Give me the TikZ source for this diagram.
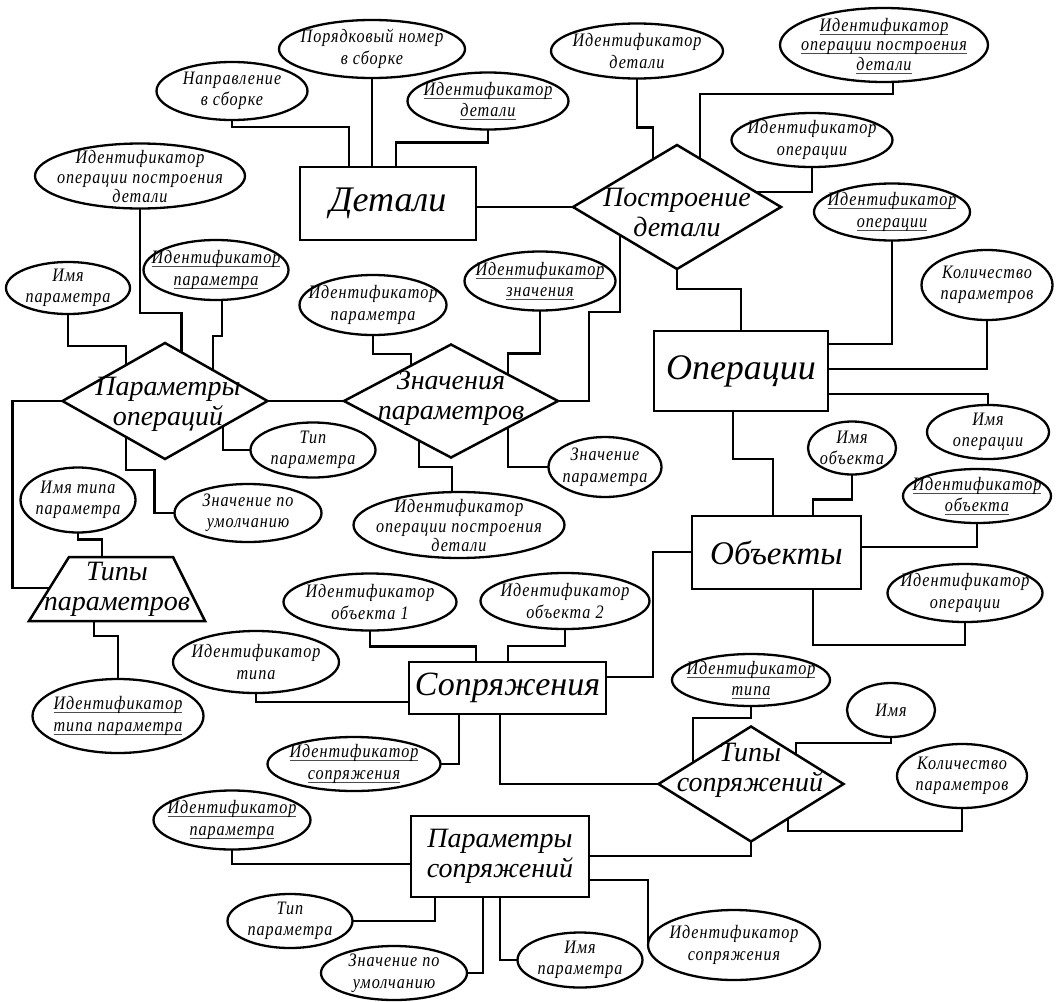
\documentclass[tikz,border=0pt]{standalone}
\usepackage{fontspec}
\setmainfont{Liberation Serif}
\newfontfamily\attrf{Liberation Serif}[FakeStretch=0.85, LetterSpace=5]
\usetikzlibrary{shapes.geometric,calc}
\newcommand{\myul}[1]{\setbox0\hbox{#1}\rlap{\textcolor{black!70}{\rule[-3.5pt]{\wd0}{0.9pt}}}\box0}
\tikzset{
 conn/.style={line width=2.3pt, line join=miter},
 attr/.style={ellipse, draw, line width=2.3pt, inner sep=0pt, outer sep=0pt},
 attrtext/.style={align=center, inner sep=0pt, font=\attrf\itshape\fontsize{19}{21.5}\selectfont},
 attrtextc/.style={align=center, inner sep=0pt, font=\attrf\itshape\fontsize{19}{19.5}\selectfont},
 entity/.style={rectangle, draw, line width=2.5pt, inner sep=0pt, outer sep=0pt, align=center},
 rel/.style={diamond, draw, line width=2.5pt, inner sep=0pt, outer sep=0pt},
 reltext/.style={align=center, inner sep=0pt, font=\itshape\fontsize{28}{30}\selectfont},
}
\newcommand{\attrnode}[6]{%
 \node[attr, minimum width=#4pt, minimum height=#5pt] (#1) at (#2,#3) {};
 \node[attrtext] (#1t) at (#1) {#6};}
\newcommand{\attrnodec}[6]{%
 \node[attr, minimum width=#4pt, minimum height=#5pt] (#1) at (#2,#3) {};
 \node[attrtextc] (#1t) at ($(#1)+(0,1)$) {#6};}
\begin{document}
\begin{tikzpicture}[x=1pt,y=-1pt]
\fill[white] (0,0) rectangle (1062,1001);
\useasboundingbox (0,0) rectangle (1062,1001);
% attributes
\attrnode{nom}{372}{49}{186}{58}{Порядковый номер\\в сборке}
\attrnode{napr}{232}{91}{151}{58}{Направление\\в сборке}
\attrnode{iddet}{488}{101}{161}{57}{\myul{Идентификатор}\\\myul{детали}}
\attrnodec{idopdl}{140}{176}{210}{65}{Идентификатор\\операции построения\\детали}
\attrnode{imp}{68}{288}{124}{52}{Имя\\параметра}
\attrnode{idpar}{216}{270}{145}{60}{\myul{Идентификатор}\\\myul{параметра}}
\attrnode{idparb}{373}{305}{147}{60}{Идентификатор\\параметра}
\attrnode{idval}{540}{281}{151}{59}{\myul{Идентификатор}\\\myul{значения}}
\attrnode{iddetb}{637}{51}{172}{55}{Идентификатор\\детали}
\attrnodec{idopdt}{884}{45}{208}{74}{\myul{Идентификатор}\\\myul{операции построения}\\\myul{детали}}
\attrnode{idop}{812}{140}{161}{54}{Идентификатор\\операции}
\attrnode{idopu}{892}{212}{156}{57}{\myul{Идентификатор}\\\myul{операции}}
\attrnode{kol}{987}{285}{131}{70}{Количество\\параметров}
\attrnode{imop}{988}{432}{122}{54}{Имя\\операции}
\attrnode{imobj}{852}{448}{88}{53}{Имя\\объекта}
\attrnode{idobj}{977}{496}{148}{54}{\myul{Идентификатор}\\\myul{объекта}}
\attrnode{idopc}{965}{593}{155}{58}{Идентификатор\\операции}
\attrnode{tp}{313}{450}{125}{55}{Тип\\параметра}
\attrnode{zum}{248}{513}{147}{58}{Значение по\\умолчанию}
\attrnode{zpar}{605}{467}{113}{60}{Значение\\параметра}
\attrnodec{idopdm}{459}{525}{211}{66}{Идентификатор\\операции построения\\детали}
\attrnode{imtp}{78}{500}{115}{65}{Имя типа\\параметра}
\attrnode{idtp}{118}{716}{171}{74}{\myul{Идентификатор}\\\myul{типа параметра}}
\attrnode{obja}{370}{602}{173}{57}{Идентификатор\\объекта 1}
\attrnode{objb}{565}{601}{169}{56}{Идентификатор\\объекта 2}
\attrnode{idtype}{256}{662}{166}{62}{Идентификатор\\типа}
\attrnode{idsop}{354}{764}{173}{54}{\myul{Идентификатор}\\\myul{сопряжения}}
\attrnode{idtypeu}{751}{680}{158}{52}{\myul{Идентификатор}\\\myul{типа}}
\attrnode{imya}{891}{710}{88}{54}{Имя}
\attrnode{kolb}{962}{776}{130}{64}{Количество\\параметров}
\attrnode{idparc}{232}{820}{157}{59}{\myul{Идентификатор}\\\myul{параметра}}
\attrnode{tpb}{290}{921}{125}{54}{Тип\\параметра}
\attrnode{zumb}{394}{973}{146}{54}{Значение по\\умолчанию}
\attrnode{impb}{580}{960}{125}{55}{Имя\\параметра}
\attrnode{idsopb}{734}{945}{172}{70}{Идентификатор\\сопряжения}
% entities
\node[entity, minimum width=176pt, minimum height=73pt, font=\itshape\fontsize{36}{38}\selectfont] (det) at (388,203.5) {Детали};
\node[entity, minimum width=174pt, minimum height=80pt, font=\itshape\fontsize{36}{38}\selectfont] (ops) at (741,371) {Операции};
\node[entity, minimum width=169pt, minimum height=73pt, font=\itshape\fontsize{33}{35}\selectfont] (obj) at (776.5,552.5) {Объекты};
\node[entity, minimum width=197pt, minimum height=52pt, font=\itshape\fontsize{34}{36}\selectfont] (sop) at (507.5,688) {Сопряжения};
\node[entity, minimum width=178pt, minimum height=81pt, font=\itshape\fontsize{28}{30}\selectfont] (psop) at (500,856.5) {Параметры\\сопряжений};
% relationships
\node[rel, minimum width=208pt, minimum height=124pt] (pd) at (677,207) {};
\node[reltext] (pdt) at (677,212) {Построение\\детали};
\node[rel, minimum width=205pt, minimum height=116pt] (po) at (165,401) {};
\node[reltext] (pot) at (168,404) {Параметры\\операций};
\node[rel, minimum width=214pt, minimum height=113pt] (zp) at (451,401) {};
\node[reltext] (zpt) at (451,398) {Значения\\параметров};
\node[rel, minimum width=185pt, minimum height=115pt] (tsop) at (751,784) {};
\node[reltext] (tsopt) at (750,770) {Типы\\сопряжений};
% trapezoid
\coordinate (tpTL) at (69,557);
\coordinate (tpTR) at (173,557);
\coordinate (tpBR) at (205,621);
\coordinate (tpBL) at (29,621);
\draw[line width=2.5pt, line join=miter] (tpTL) -- (tpTR) -- (tpBR) -- (tpBL) -- cycle;
\node[reltext] (tpar) at (117,589) {Типы\\параметров};
% connectors
\draw[conn] (napr.south) -- ++(0,7) -| ($(det.north west)+(49,0)$);
\draw[conn] (nom.south) -- (nom.south |- det.north);
\draw[conn] (iddet.south) -- ++(0,13) -| ($(det.north west)+(96,0)$);
\draw[conn] (pd.west) -- (pd.west -| det.east);
\draw[conn] (iddetb.south) -- ++(0,49) -| ($(pd.west)!0.77!(pd.north)$);
\draw[conn] ($(idopdt.south)+(9,0)$) -- ++(0,12) -| ($(pd.north)!0.22!(pd.east)$);
\draw[conn] (idop.south) |- ($(pd.north)!0.76!(pd.east)$);
\draw[conn] (pd.south) -- ++(0,20) -| (ops.north);
\draw[conn] ($(pd.west)!0.45!(pd.south)$) |- ($(zp.east)+(31,-89)$) |- (zp.east);
\draw[conn] (idopu.south) |- ($(ops.north east)+(0,13)$);
\draw[conn] (kol.south) |- ($(ops.north east)+(0,38)$);
\draw[conn] ($(ops.north east)+(0,63)$) -| (imop.north);
\draw[conn] ($(ops.south west)+(79,0)$) -- ++(0,48) -| ($(obj.north west)+(81,0)$);
\draw[conn] (imobj.south) -- ++(0,25) -| ($(obj.north west)+(121,0)$);
\draw[conn] (idobj.south) |- ($(obj.north east)+(0,31)$);
\draw[conn] (idopc.south) -- ++(0,23) -| ($(obj.south west)+(121,0)$);
\draw[conn] ($(obj.north west)+(0,36)$) -| ($(sop.north east)+(47,15)$) -- ($(sop.north east)+(0,15)$);
\draw[conn] (obja.south) -- ++(0,16) -| ($(sop.north west)+(67,0)$);
\draw[conn] (objb.south) -- ++(0,17) -| ($(sop.north west)+(99,0)$);
\draw[conn] (idtype.south) |- ($(sop.north west)+(0,40)$);
\draw[conn] ($(sop.south west)+(50,0)$) |- (idsop.east);
\draw[conn] ($(sop.south west)+(91,0)$) |- (tsop.west);
\draw[conn] (idtypeu.south) -- ++(0,12) -| ($(tsop.west)!0.37!(tsop.north)$);
\draw[conn] (imya.south) -- ++(0,6) -| ($(tsop.north)!0.49!(tsop.east)$);
\draw[conn] (kolb.south) -- ++(0,23) -| ($(tsop.south)!0.4!(tsop.east)$);
\draw[conn] ($(psop.north east)+(0,40)$) -| (tsop.south);
\draw[conn] ($(psop.north east)+(0,64)$) -| (idsopb.west);
\draw[conn] ($(psop.south west)+(89,0)$) |- (impb.west);
\draw[conn] ($(psop.south west)+(72,0)$) |- (zumb.east);
\draw[conn] ($(psop.south west)+(24,0)$) |- (tpb.east);
\draw[conn] (idparc.south) |- ($(psop.north west)+(0,48)$);
\draw[conn] (po.east) -- (zp.west);
\draw[conn] (imp.south) -- ++(0,32) -| ($(po.west)!0.62!(po.north)$);
\draw[conn] (idopdl.south) -- ++(0,104.5) -| ($(po.north)!0.16!(po.east)$);
\draw[conn] ($(idpar.south)+(6,0)$) -- ++(0,36) -| ($(po.north)!0.47!(po.east)$);
\draw[conn] ($(po.south)!0.566!(po.east)$) |- (tp.west);
\draw[conn] ($(po.south)!0.38!(po.west)$) |- ($(zum.west)+(-20,-43)$) |- (zum.west);
\draw[conn] (po.west) -- ++(-50,0) |- ($(tpBL)!0.52!(tpTL)$);
\draw[conn] (imtp.south) -- ++(0,7) -| ($(tpTL)+(33,0)$);
\draw[conn] ($(tpBL)+(65,0)$) -- ++(0,15) -| (idtp.north);
\draw[conn] (idparb.south) -- ++(0,19) -| ($(zp.west)!0.626!(zp.north)$);
\draw[conn] (idval.south) -- ++(0,43) -| ($(zp.north)!0.533!(zp.east)$);
\draw[conn] ($(zp.south)!0.533!(zp.east)$) |- (zpar.west);
\draw[conn] ($(zp.south)!0.3!(zp.west)$) |- ($(zp.south)+(1,9.5)$) -- ($(idopdm.north)+(-7,0)$);
\end{tikzpicture}
\end{document}
